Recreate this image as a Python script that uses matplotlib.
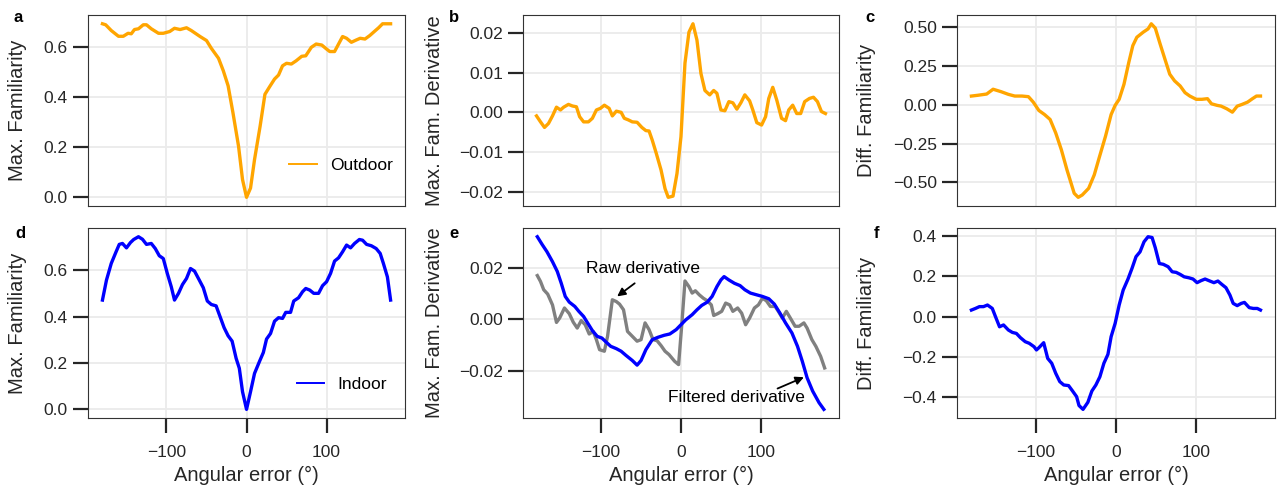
import matplotlib

matplotlib.use("Agg")
import matplotlib.pyplot as plt

# panel a: outdoor max familiarity
a_x = [-180, -176, -169, -160, -154, -148, -144, -140, -135, -129, -125, -119, -110, -104,
       -96, -90, -83, -75, -69, -58, -50, -44, -35, -29, -23, -17, -10, -5, 0, 5, 10, 17,
       23, 29, 35, 40, 45, 50, 56, 62, 69, 74, 81, 87, 94, 100, 104, 110, 115, 120, 125,
       131, 137, 142, 148, 154, 160, 165, 170, 180]
a_y = [0.694, 0.690, 0.667, 0.644, 0.644, 0.656, 0.654, 0.671, 0.674, 0.690, 0.690, 0.674,
       0.656, 0.656, 0.663, 0.676, 0.671, 0.678, 0.667, 0.643, 0.627, 0.596, 0.556, 0.506,
       0.446, 0.339, 0.205, 0.071, 0.0, 0.037, 0.151, 0.285, 0.412, 0.443, 0.473, 0.489,
       0.526, 0.536, 0.533, 0.546, 0.564, 0.566, 0.600, 0.613, 0.609, 0.593, 0.583, 0.583,
       0.613, 0.643, 0.636, 0.620, 0.629, 0.636, 0.633, 0.647, 0.664, 0.678, 0.694, 0.694]

# panel b: outdoor derivative
b_x = [-181, -176, -171, -166, -161, -156, -151, -147, -141, -136, -131, -127, -122, -116,
       -111, -106, -101, -96, -90, -86, -81, -75, -71, -66, -61, -55, -49, -44, -40, -36,
       -31, -25, -20, -16, -10, -5, 0, 5, 10, 15, 20, 25, 30, 36, 41, 45, 50, 55, 60, 65,
       70, 75, 80, 86, 90, 95, 101, 106, 110, 115, 120, 126, 131, 135, 140, 145, 150, 155,
       161, 166, 171, 176, 181]
b_y = [-0.0009, -0.0024, -0.0038, -0.0028, -0.0009, 0.0013, 0.0006, 0.0013, 0.0020, 0.0016,
       0.0014, -0.0011, -0.0024, -0.0024, -0.0015, 0.0006, 0.0010, 0.0018, 0.0010, -0.0009,
       0.0003, 0.0000, -0.0015, -0.0019, -0.0024, -0.0025, -0.0038, -0.0046, -0.0047,
       -0.0070, -0.0103, -0.0145, -0.0192, -0.0214, -0.0211, -0.0154, -0.0061, 0.0124,
       0.0202, 0.0223, 0.0182, 0.0098, 0.0055, 0.0044, 0.0055, 0.0048, 0.0006, 0.0004,
       0.0027, 0.0024, 0.0008, 0.0024, 0.0044, 0.0029, 0.0006, -0.0026, -0.0032, -0.0011,
       0.0035, 0.0063, 0.0031, -0.0015, -0.0021, 0.0006, 0.0018, -0.0003, -0.0003, 0.0027,
       0.0035, 0.0038, 0.0027, 0.0002, -0.0003]

# panel c: outdoor difference
c_x = [-180, -172, -161, -153, -143, -134, -126, -117, -109, -103, -96, -89, -82, -75, -68,
       -61, -52, -47, -42, -34, -27, -21, -13, -6, -1, 4, 10, 16, 21, 26, 34, 40, 44, 49,
       55, 61, 67, 73, 80, 86, 92, 100, 107, 114, 119, 126, 131, 138, 145, 151, 157, 164,
       170, 175, 180]
c_y = [0.056, 0.061, 0.069, 0.100, 0.084, 0.067, 0.056, 0.056, 0.052, 0.017, -0.037, -0.063,
       -0.095, -0.182, -0.290, -0.420, -0.571, -0.597, -0.582, -0.539, -0.452, -0.344,
       -0.203, -0.063, -0.004, 0.035, 0.132, 0.273, 0.381, 0.435, 0.468, 0.489, 0.522,
       0.494, 0.392, 0.294, 0.197, 0.154, 0.121, 0.078, 0.056, 0.035, 0.035, 0.039, 0.006,
       -0.004, -0.009, -0.026, -0.048, -0.009, 0.002, 0.017, 0.039, 0.056, 0.056]

# panel d: indoor max familiarity
d_x = [-180, -175, -169, -163, -159, -155, -150, -145, -141, -135, -130, -125, -119, -114,
       -109, -104, -99, -94, -90, -85, -80, -75, -70, -65, -59, -54, -49, -44, -38, -33,
       -28, -23, -18, -13, -9, -5, 0, 5, 10, 16, 21, 25, 30, 35, 40, 45, 49, 55, 59, 65,
       70, 74, 79, 84, 90, 95, 100, 105, 110, 115, 120, 125, 130, 135, 141, 145, 150, 156,
       162, 167, 171, 176, 180]
d_y = [0.471, 0.557, 0.629, 0.679, 0.711, 0.715, 0.696, 0.719, 0.732, 0.744, 0.733, 0.711,
       0.715, 0.693, 0.662, 0.650, 0.586, 0.528, 0.471, 0.500, 0.538, 0.564, 0.607, 0.596,
       0.557, 0.524, 0.467, 0.452, 0.446, 0.399, 0.352, 0.317, 0.294, 0.220, 0.177, 0.076,
       0.0, 0.076, 0.155, 0.205, 0.245, 0.303, 0.327, 0.380, 0.395, 0.392, 0.418, 0.418,
       0.467, 0.481, 0.507, 0.521, 0.514, 0.500, 0.500, 0.533, 0.550, 0.586, 0.639, 0.653,
       0.679, 0.708, 0.696, 0.715, 0.732, 0.729, 0.711, 0.705, 0.693, 0.672, 0.629, 0.571,
       0.471]

# panel e: indoor derivative, filtered and raw
e_filt_x = [-180, -174, -168, -161, -155, -150, -145, -140, -133, -128, -122, -117, -111,
            -105, -99, -94, -88, -81, -75, -69, -61, -55, -50, -44, -36, -29, -21, -14, -6,
            0, 6, 14, 20, 26, 33, 39, 45, 50, 54, 60, 67, 74, 80, 87, 95, 102, 110, 117,
            124, 131, 139, 146, 152, 158, 165, 173, 179]
e_filt_y = [0.0320, 0.0290, 0.0262, 0.0223, 0.0185, 0.0139, 0.0088, 0.0066, 0.0049, 0.0030,
            0.0010, -0.0015, -0.0045, -0.0067, -0.0074, -0.0089, -0.0106, -0.0115, -0.0125,
            -0.0141, -0.0161, -0.0179, -0.0161, -0.0119, -0.0080, -0.0071, -0.0063, -0.0058,
            -0.0041, -0.0022, -0.0003, 0.0017, 0.0036, 0.0053, 0.0066, 0.0088, 0.0126,
            0.0152, 0.0165, 0.0152, 0.0139, 0.0130, 0.0114, 0.0101, 0.0094, 0.0088, 0.0079,
            0.0058, 0.0023, -0.0015, -0.0054, -0.0106, -0.0164, -0.0228, -0.0280, -0.0325,
            -0.0351]
e_raw_x = [-180, -176, -172, -167, -161, -156, -152, -146, -140, -135, -130, -125, -120,
           -115, -110, -106, -102, -96, -92, -86, -81, -77, -72, -67, -61, -55, -50, -45,
           -40, -35, -30, -25, -20, -15, -8, -3, 1, 5, 10, 14, 18, 23, 28, 33, 38, 41, 46,
           51, 56, 61, 65, 71, 76, 81, 86, 92, 97, 102, 107, 112, 118, 122, 127, 132, 137,
           143, 148, 154, 158, 164, 169, 175, 180]
e_raw_y = [0.0169, 0.0146, 0.0114, 0.0097, 0.0055, -0.0013, 0.0004, 0.0043, 0.0021, -0.0012,
           -0.0035, -0.0006, -0.0022, -0.0058, -0.0048, -0.0080, -0.0119, -0.0125, -0.0067,
           0.0075, 0.0068, 0.0058, 0.0036, -0.0048, -0.0067, -0.0086, -0.0080, -0.0015,
           -0.0041, -0.0080, -0.0084, -0.0103, -0.0125, -0.0138, -0.0164, -0.0177, -0.0022,
           0.0148, 0.0126, 0.0101, 0.0110, 0.0094, 0.0081, 0.0071, 0.0055, 0.0014, 0.0021,
           0.0030, 0.0062, 0.0055, 0.0030, 0.0043, 0.0023, -0.0022, 0.0004, 0.0043, 0.0055,
           0.0081, 0.0071, 0.0049, 0.0049, 0.0030, 0.0004, 0.0030, 0.0004, -0.0028, -0.0028,
           -0.0015, -0.0035, -0.0080, -0.0106, -0.0145, -0.0190]

# panel f: indoor difference
f_x = [-180, -175, -170, -165, -160, -154, -150, -145, -140, -134, -129, -124, -119, -113,
       -108, -102, -99, -96, -90, -85, -80, -75, -70, -65, -59, -54, -49, -46, -41, -35,
       -30, -25, -20, -15, -10, -6, -1, 4, 9, 15, 20, 25, 30, 35, 40, 45, 49, 54, 59, 65,
       70, 75, 80, 85, 91, 96, 101, 106, 111, 117, 122, 127, 132, 137, 142, 146, 151, 156,
       160, 166, 171, 176, 180]
f_y = [0.033, 0.041, 0.050, 0.050, 0.058, 0.041, 0.0, -0.050, -0.041, -0.066, -0.078,
       -0.083, -0.104, -0.124, -0.132, -0.149, -0.165, -0.154, -0.129, -0.207, -0.231,
       -0.281, -0.322, -0.339, -0.342, -0.369, -0.397, -0.441, -0.460, -0.425, -0.369,
       -0.339, -0.298, -0.231, -0.187, -0.099, -0.033, 0.058, 0.132, 0.187, 0.240, 0.298,
       0.322, 0.372, 0.397, 0.393, 0.342, 0.264, 0.260, 0.248, 0.223, 0.220, 0.210, 0.198,
       0.193, 0.187, 0.169, 0.179, 0.187, 0.177, 0.169, 0.177, 0.160, 0.144, 0.107, 0.066,
       0.055, 0.066, 0.071, 0.045, 0.041, 0.041, 0.033]

outdoor = "orange"
indoor = "blue"
raw = "gray"

plt.rcParams["font.family"] = ["Liberation Sans", "DejaVu Sans"]
plt.rcParams["axes.edgecolor"] = "#333333"
plt.rcParams["axes.linewidth"] = 0.8
plt.rcParams["grid.color"] = "#ebebeb"
plt.rcParams["grid.linewidth"] = 1.3
plt.rcParams["xtick.major.size"] = 10.5
plt.rcParams["ytick.major.size"] = 10.5
plt.rcParams["xtick.major.width"] = 1.6
plt.rcParams["ytick.major.width"] = 1.6
plt.rcParams["xtick.color"] = "#262626"
plt.rcParams["ytick.color"] = "#262626"
plt.rcParams["xtick.labelsize"] = 12.5
plt.rcParams["ytick.labelsize"] = 12.5
plt.rcParams["axes.labelsize"] = 14.5
plt.rcParams["axes.labelcolor"] = "#262626"
plt.rcParams["xtick.major.pad"] = 9
plt.rcParams["ytick.major.pad"] = 4

fig = plt.figure(figsize=(12.78, 4.92), dpi=100)

lefts = [0.0689, 0.4092, 0.7488]
widths = [0.248, 0.2473, 0.2488]
bottoms = [0.5813, 0.1504]
heights = [0.388, 0.386]

axes = {}
for r in range(2):
    for c in range(3):
        ax = fig.add_axes([lefts[c], bottoms[r], widths[c], heights[r]])
        ax.grid(True)
        ax.set_axisbelow(True)
        axes[(r, c)] = ax

lw = 2.4
leg_kw = dict(loc="lower right", frameon=False, fontsize=12.5, handlelength=1.6,
              handletextpad=0.75, borderaxespad=0)

ax = axes[(0, 0)]
ax.plot(a_x, a_y, color=outdoor, lw=lw, label="Outdoor")
ax.set_ylabel("Max. Familiarity")
ax.set_yticks([0.0, 0.2, 0.4, 0.6])
leg = ax.legend(bbox_to_anchor=(0.984, 0.136), **leg_kw)
for line in leg.get_lines():
    line.set_linewidth(1.4)

ax = axes[(0, 1)]
ax.plot(b_x, b_y, color=outdoor, lw=lw)
ax.set_ylabel("Max. Fam. Derivative")
ax.set_yticks([-0.02, -0.01, 0.0, 0.01, 0.02])

ax = axes[(0, 2)]
ax.plot(c_x, c_y, color=outdoor, lw=lw)
ax.set_ylabel("Diff. Familiarity")
ax.set_yticks([-0.5, -0.25, 0.0, 0.25, 0.5])

ax = axes[(1, 0)]
ax.plot(d_x, d_y, color=indoor, lw=lw, label="Indoor")
ax.set_ylabel("Max. Familiarity")
ax.set_yticks([0.0, 0.2, 0.4, 0.6])
leg = ax.legend(bbox_to_anchor=(0.965, 0.10), **leg_kw)
for line in leg.get_lines():
    line.set_linewidth(1.4)

ax = axes[(1, 1)]
ax.plot(e_raw_x, e_raw_y, color=raw, lw=lw)
ax.plot(e_filt_x, e_filt_y, color=indoor, lw=lw)
ax.set_ylabel("Max. Fam. Derivative")
ax.set_yticks([-0.02, 0.0, 0.02])
ax.text(-48, 0.0197, "Raw derivative", ha="center", va="center", fontsize=12.5)
ax.annotate("", xy=(-80, 0.0088), xytext=(-58, 0.0139),
            arrowprops=dict(arrowstyle="-|>", color="black", lw=1.3,
                            mutation_scale=12, shrinkA=0, shrinkB=0))
ax.text(69, -0.0306, "Filtered derivative", ha="center", va="center", fontsize=12.5)
ax.annotate("", xy=(154, -0.0226), xytext=(121, -0.0270),
            arrowprops=dict(arrowstyle="-|>", color="black", lw=1.3,
                            mutation_scale=12, shrinkA=0, shrinkB=0))

ax = axes[(1, 2)]
ax.plot(f_x, f_y, color=indoor, lw=lw)
ax.set_ylabel("Diff. Familiarity")
ax.set_yticks([-0.4, -0.2, 0.0, 0.2, 0.4])

for c in range(3):
    top = axes[(0, c)]
    bot = axes[(1, c)]
    top.set_xlim(-198, 198)
    bot.set_xlim(-198, 198)
    top.set_xticks([-100, 0, 100])
    bot.set_xticks([-100, 0, 100])
    top.tick_params(axis="x", length=0, labelbottom=False)
    bot.set_xlabel("Angular error (°)")

# y label right edges (pixels from left)
label_px = [27, 444, 876]
for c in range(3):
    for r in range(2):
        axes[(r, c)].yaxis.set_label_coords(
            (label_px[c] / 1278 - lefts[c]) / widths[c], 0.5)

# panel letters
letters = [("a", 18, 18), ("b", 454, 18), ("c", 870, 18),
           ("d", 20, 234), ("e", 454, 234), ("f", 876, 234)]
for txt, px, py in letters:
    fig.text(px / 1278, 1 - py / 492, txt, fontsize=12, fontweight="bold",
             ha="center", va="center")

fig.savefig("out.png", dpi=100)
